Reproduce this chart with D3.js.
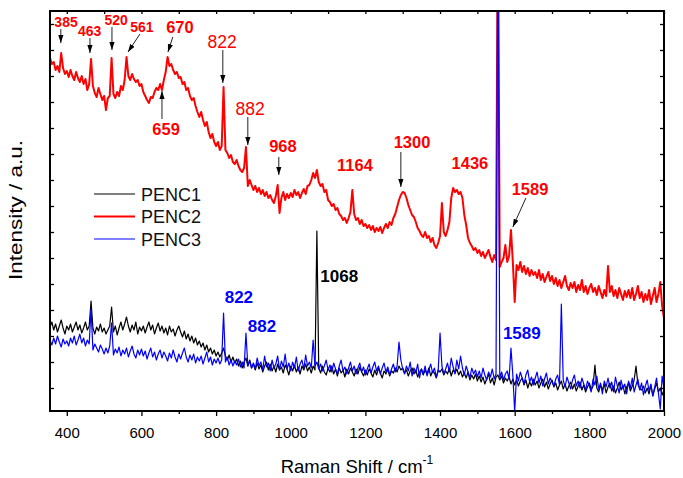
<!DOCTYPE html>
<html>
<head>
<meta charset="utf-8">
<script src="https://cdn.jsdelivr.net/npm/d3@7"></script>
<style>
body{margin:0;background:#fff;}
text{font-family:"Liberation Sans",Arial,sans-serif;}
</style>
</head>
<body>
<svg id="chart" width="683" height="478"></svg>
<script>
// Raman shift grid (cm-1) the spectra were read on
var shiftStart = 355, shiftEnd = 2000, shiftStep = 5;

// PENC1 (black)
var penc1 = [
 84,89,81,87,79,85,91,83,77,85, 81,87,79,84,89,81,86,78,83,89,
 81,85,110,83,77,84,80,87,79,83, 77,81,85,104,79,85,76,83,89,81,
 87,94,85,79,86,81,89,77,84,80, 85,78,84,89,81,86,77,83,88,80,
 85,78,83,76,85,79,82,75,81,85, 79,74,80,72,77,70,75,68,73,66,
 70,64,68,61,66,59,63,57,61,55, 59,54,58,63,55,51,56,49,54,48,
 52,45,50,43,49,53,45,51,43,47, 41,48,42,46,39,45,49,41,47,40,
 45,39,47,41,44,38,46,42,36,45, 40,46,39,44,37,45,41,47,40,44,
 38,45,41,180,43,38,45,39,36,43, 39,45,37,42,35,43,38,41,34,42,
 37,43,39,35,42,37,44,39,35,41, 36,42,38,34,41,36,43,38,33,40,
 37,42,35,40,38,43,39,45,41,43, 38,41,35,40,43,37,41,34,39,42,
 36,41,37,43,35,40,38,33,41,39, 42,36,40,37,43,35,41,38,42,36,
 40,34,38,33,39,31,36,32,37,30, 35,29,34,27,32,37,28,33,26,34,
 36,31,35,28,33,30,34,27,32,26, 31,25,30,33,26,31,23,29,25,32,
 26,30,23,28,32,24,29,22,27,31, 24,28,21,26,30,22,27,20,25,29,
 22,27,20,25,29,21,26,19,24,28, 21,25,46,23,19,26,21,27,18,24,
 28,20,25,18,23,29,21,26,17,24, 28,20,25,31,45,27,22,21,25,18,
 23,17,26,15,22,28,19,23,16,21
];

// PENC2 (red)
var penc2 = [
 353,347,349,341,345,339,358,343,337,340, 334,341,335,331,339,333,329,335,327,332,
 321,327,352,325,318,314,323,317,311,315, 301,313,315,353,317,313,319,315,325,321,
 331,354,335,331,337,332,329,331,325,327, 319,315,311,308,314,313,319,323,321,327,
 321,331,339,354,345,347,341,337,339,333, 334,327,329,321,323,315,311,313,305,299,
 294,299,291,285,289,279,273,277,269,265, 269,261,265,324,261,258,253,256,249,247,
 251,245,241,239,243,264,225,231,226,221, 225,219,223,217,221,215,219,213,216,211,
 208,215,226,198,213,219,211,217,213,218, 214,221,216,219,213,218,222,217,225,226,
 231,238,233,241,229,225,227,219,221,211, 209,205,207,201,203,197,195,191,193,188,
 193,199,221,197,191,193,187,191,185,187, 183,186,181,185,179,183,180,184,178,183,
 187,183,189,186,193,197,204,211,216,219, 218,213,206,201,196,194,189,183,180,176,
 174,179,173,175,169,173,166,163,168,175, 208,179,175,181,189,213,223,219,221,217,
 219,213,196,186,173,168,165,161,163,158, 161,155,159,153,157,161,154,149,156,151,
 511,144,149,153,166,149,155,181,149,109, 146,141,149,139,145,137,143,135,141,136,
 139,133,141,131,137,129,134,139,130,135, 127,133,125,131,123,129,135,125,121,128,
 123,129,119,126,121,131,119,125,117,123, 127,119,123,116,125,119,113,121,115,145,
 119,125,115,121,113,123,117,111,120,114, 121,113,123,111,117,125,113,119,109,117,
 111,121,107,115,123,109,117,129,105,93
];

// PENC3 (blue)
var penc3 = [
 71,66,73,67,75,69,64,72,67,70, 65,73,68,75,66,71,77,68,73,65,
 71,67,102,61,67,63,59,66,62,57, 63,58,65,88,56,62,58,64,55,61,
 57,63,54,60,65,57,53,61,56,62, 55,60,52,58,63,54,59,51,57,61,
 53,59,55,50,58,53,61,54,49,57, 52,58,63,54,49,56,51,57,48,54,
 50,55,47,53,59,49,54,46,52,48, 53,47,51,98,49,54,46,51,45,50,
 46,52,44,49,43,78,45,50,43,48, 42,53,45,49,41,55,44,48,40,51,
 43,47,55,41,50,44,57,42,48,40, 49,43,54,40,47,51,42,56,45,49,
 43,71,45,49,42,47,40,45,51,41, 46,39,48,42,37,45,51,40,44,37,
 43,49,40,45,37,43,48,39,44,36, 42,47,38,44,49,40,45,37,43,48,
 39,44,36,42,47,39,45,69,51,42, 37,45,40,49,35,43,38,47,33,42,
 37,45,35,41,47,38,43,34,40,78, 45,37,42,48,39,53,44,37,51,42,
 55,43,36,45,39,33,43,37,41,34, 40,33,43,36,31,39,34,42,32,37,
 511,33,39,31,37,40,32,63,36,-1, 37,30,39,33,27,36,41,29,34,26,
 33,39,28,35,25,32,38,27,33,29, 25,32,36,26,107,31,24,34,28,22,
 31,36,25,30,23,33,27,21,30,25, 19,32,26,35,22,28,17,30,24,33,
 23,29,19,34,25,18,31,22,27,17, 30,23,33,19,26,32,21,28,16,25,
 31,20,27,15,24,33,18,2,35,23
];

var seriesNames = ["PENC1", "PENC2", "PENC3"];
var xMajorTicks = [400, 600, 800, 1000, 1200, 1400, 1600, 1800, 2000];
var xMinorTicks = [500, 700, 900, 1100, 1300, 1500, 1700, 1900];
var yTicks = [23, 49, 75, 101, 127, 153, 179, 205, 231, 257, 283, 309, 335, 361, 387];

// peak labels: position of text and arrow (shift, intensity)
var peakLabels = [
  {text:"385",  kind:"redSmall", at:[398,384],  arrow:[384,382,384,368]},
  {text:"463",  kind:"redSmall", at:[461,375],  arrow:[462,373,462,358]},
  {text:"520",  kind:"redSmall", at:[532,386],  arrow:[521,384,521,361]},
  {text:"561",  kind:"redSmall", at:[601,379],  arrow:[596,377,564,359]},
  {text:"670",  kind:"red",      at:[703,378],  arrow:[684,374,671,359]},
  {text:"822",  kind:"redThin",  at:[816,363],  arrow:[818,361,818,328]},
  {text:"659",  kind:"red",      at:[666,276],  arrow:[655,292,655,320]},
  {text:"882",  kind:"redThin",  at:[891,296],  arrow:[885,294,885,266]},
  {text:"968",  kind:"red",      at:[979,259],  arrow:[968,254,968,236]},
  {text:"1164", kind:"red",      at:[1172,240]},
  {text:"1300", kind:"red",      at:[1325,263], arrow:[1295,259,1295,224]},
  {text:"1436", kind:"red",      at:[1480,242]},
  {text:"1589", kind:"red",      at:[1641,216], arrow:[1630,213,1595,184]},
  {text:"822",  kind:"blue",     at:[861,108]},
  {text:"882",  kind:"blue",     at:[923,79]},
  {text:"1589", kind:"blue",     at:[1619,72]},
  {text:"1068", kind:"black",    at:[1130,129]}
];

var labelStyle = {
  redSmall:{fill:"#ff0000", size:14, weight:"bold"},
  red:{fill:"#ff0000", size:16.5, weight:"bold"},
  redThin:{fill:"#ff0000", size:17.5, weight:"normal"},
  blue:{fill:"#0000ff", size:17, weight:"bold"},
  black:{fill:"#000000", size:17, weight:"bold"}
};

var colors = ["#000000", "#ff0000", "#0000ff"];
var widths = [1.2, 2, 1.2];

var svg = d3.select("#chart");
var x = d3.scaleLinear().domain([shiftStart, shiftEnd]).range([50, 664]);
var y = d3.scaleLinear().domain([0, 400]).range([411, 11]);

svg.append("defs").append("clipPath").attr("id", "plotClip")
  .append("rect").attr("x", 50).attr("y", 11).attr("width", 614).attr("height", 400);

var marker = svg.select("defs").append("marker")
  .attr("id", "arrowHead")
  .attr("viewBox", "0 -3 8 6")
  .attr("refX", 8).attr("refY", 0)
  .attr("markerWidth", 8).attr("markerHeight", 6)
  .attr("markerUnits", "userSpaceOnUse")
  .attr("orient", "auto");
marker.append("path").attr("d", "M0,-2.6L8,0L0,2.6Z").attr("fill", "#000");

var line = d3.line()
  .x(function(d, i){ return x(shiftStart + i * shiftStep); })
  .y(function(d){ return y(d); });

var plot = svg.append("g").attr("clip-path", "url(#plotClip)");
[penc1, penc2, penc3].forEach(function(s, k){
  plot.append("path")
    .datum(s)
    .attr("fill", "none")
    .attr("stroke", colors[k])
    .attr("stroke-width", widths[k])
    .attr("stroke-linejoin", "round")
    .attr("d", line);
});

// axes
var bottom = svg.append("g").attr("transform", "translate(0,411)")
  .call(d3.axisBottom(x).tickValues(xMajorTicks).tickSize(5).tickPadding(11)
    .tickFormat(d3.format("d")).tickSizeOuter(0));
svg.append("g").attr("transform", "translate(0,411)")
  .call(d3.axisBottom(x).tickValues(xMinorTicks).tickSize(3).tickFormat("").tickSizeOuter(0));
svg.append("g").attr("transform", "translate(0,11)")
  .call(d3.axisTop(x).tickValues(xMajorTicks.concat(xMinorTicks)).tickSize(-3).tickFormat("").tickSizeOuter(0));
svg.append("g").attr("transform", "translate(50,0)")
  .call(d3.axisLeft(y).tickValues(yTicks).tickSize(-4).tickFormat("").tickSizeOuter(0));
svg.append("g").attr("transform", "translate(664,0)")
  .call(d3.axisRight(y).tickValues(yTicks).tickSize(-4).tickFormat("").tickSizeOuter(0));

svg.selectAll(".domain").remove();
svg.selectAll(".tick line").attr("stroke", "#000").attr("stroke-width", 1.3);
bottom.selectAll("text").attr("font-size", 15).attr("fill", "#000")
  .style("font-family", "Liberation Sans, Arial, sans-serif");

svg.append("rect")
  .attr("x", 50).attr("y", 11).attr("width", 614).attr("height", 400)
  .attr("fill", "none").attr("stroke", "#000").attr("stroke-width", 2);

// axis titles
var xt = svg.append("text")
  .attr("x", 357).attr("y", 473)
  .attr("text-anchor", "middle")
  .attr("font-size", 18.5);
xt.append("tspan").text("Raman Shift / cm");
xt.append("tspan").attr("font-size", 12).attr("dy", -9).text("-1");

svg.append("text")
  .attr("transform", "translate(22,210) rotate(-90)")
  .attr("text-anchor", "middle")
  .attr("font-size", 19)
  .attr("textLength", 140)
  .attr("lengthAdjust", "spacingAndGlyphs")
  .text("Intensity / a.u.");

// peak arrows and labels
peakLabels.forEach(function(p){
  if (p.arrow) {
    svg.append("line")
      .attr("x1", x(p.arrow[0])).attr("y1", y(p.arrow[1]))
      .attr("x2", x(p.arrow[2])).attr("y2", y(p.arrow[3]))
      .attr("stroke", "#222").attr("stroke-width", 1)
      .attr("marker-end", "url(#arrowHead)");
  }
  var st = labelStyle[p.kind];
  svg.append("text")
    .attr("x", x(p.at[0])).attr("y", y(p.at[1]))
    .attr("text-anchor", "middle")
    .attr("font-size", st.size)
    .attr("font-weight", st.weight)
    .attr("fill", st.fill)
    .text(p.text);
});

// legend
var legend = svg.append("g").attr("transform", "translate(94,194)");
seriesNames.forEach(function(name, k){
  var g = legend.append("g").attr("transform", "translate(0," + (k * 22.5) + ")");
  g.append("line").attr("x1", 0).attr("x2", 41).attr("y1", 0).attr("y2", 0)
    .attr("stroke", colors[k]).attr("stroke-width", k === 1 ? 2 : 1.2);
  g.append("text").attr("x", 47).attr("y", 6.5)
    .attr("font-size", 18).attr("fill", "#111").text(name);
});
</script>
</body>
</html>
